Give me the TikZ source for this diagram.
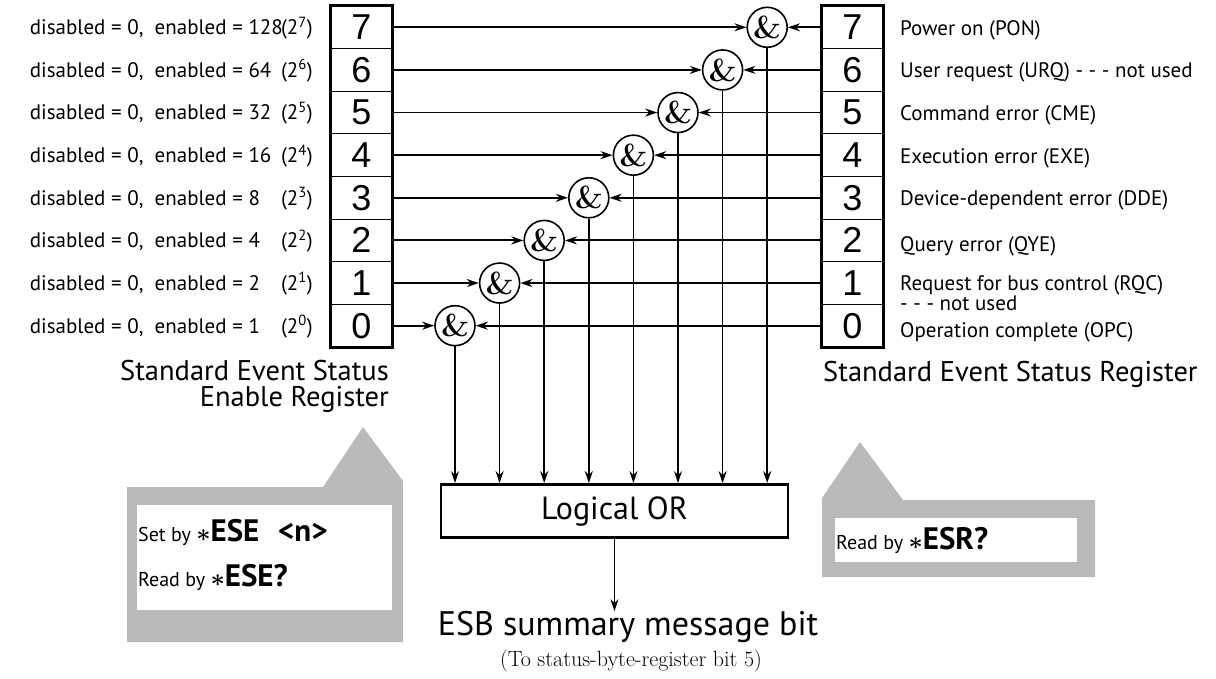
\documentclass[tikz,border=0pt]{standalone}
\usepackage{fontspec}
\setsansfont{PT Sans}
\newfontfamily\digitfont{Liberation Sans}
\newcommand{\cmdword}[1]{{\sffamily\bfseries\fontsize{31}{31}\selectfont{\boldmath$\ast$}#1}}
\usetikzlibrary{arrows.meta,positioning,calc}

\begin{document}
\begin{tikzpicture}[
    x=1pt,
    y=-1pt,
    >={Stealth[length=12pt,width=8pt]},
    bitcell/.style={
        draw,
        line width=1pt,
        minimum width=61pt,
        minimum height=42.625pt,
        inner sep=0pt,
        font=\digitfont\fontsize{36}{36}\selectfont
    },
    andgate/.style={draw,circle,line width=1.6pt,minimum size=40pt,inner sep=0pt,
        font=\rmfamily\bfseries\fontsize{32}{32}\selectfont},
    bitlabel/.style={font=\sffamily\fontsize{21}{23}\selectfont,inner sep=0pt},
    regtitle/.style={font=\sffamily\fontsize{28.5}{26}\selectfont,inner sep=0pt},
    cmd/.style={font=\sffamily\fontsize{20}{20}\selectfont,inner sep=0pt,anchor=base west},
    arrow/.style={->,line width=1.9pt},
    drop/.style={->,line width=1.7pt},
    callout/.style={fill=black!27}
]
\useasboundingbox (0,0) rectangle (1216,679);

% registers, gates and their inputs
\foreach \i in {0,...,7} {
    \pgfmathsetmacro{\ry}{27.3+42.625*(7-\i)}
    \pgfmathsetmacro{\gx}{455+44.6*\i}
    \node[bitcell] (l\i) at (361.5,\ry) {\i};
    \node[bitcell] (r\i) at (852.5,\ry) {\i};
    \node[andgate] (g\i) at (\gx,\ry) {\&};
    \draw[arrow] (l\i.east) -- (g\i.west);
    \draw[arrow] (r\i.west) -- (g\i.east);
}
\draw[line width=3.2pt] (l7.north west) rectangle (l0.south east);
\draw[line width=3.2pt] (r7.north west) rectangle (r0.south east);

% enable values
\foreach \i/\v in {7/128,6/64,5/32,4/16,3/8,2/4,1/2,0/1}
    \node[bitlabel,anchor=east] (ev\i) at (313,{28+42.625*(7-\i)})
        {disabled = 0,\ \ enabled = \makebox[1.55em][l]{\v}(2\textsuperscript{\i})};

% event names
\node[bitlabel,anchor=west] (ename7) at (900,30) {Power on (PON)};
\node[bitlabel,anchor=west] (ename6) at (900,72) {User request (URQ) - - - not used};
\node[bitlabel,anchor=west] (ename5) at (900,115) {Command error (CME)};
\node[bitlabel,anchor=west] (ename4) at (900,158) {Execution error (EXE)};
\node[bitlabel,anchor=west] (ename3) at (900,200) {Device-dependent error (DDE)};
\node[bitlabel,anchor=west] (ename2) at (900,246) {Query error (QYE)};
\node[bitlabel,anchor=west,align=left,font=\sffamily\fontsize{21}{20}\selectfont]
    (ename1) at (900,293) {Request for bus control (RQC)\\- - - not used};
\node[bitlabel,anchor=west] (ename0) at (900,332) {Operation complete (OPC)};

\node[regtitle,anchor=north east,align=right] (esetitle) at (389,360)
    {Standard Event Status\\Enable Register};
\node[regtitle,anchor=west] (esrtitle) at (823,374) {Standard Event Status Register};

% logical OR and summary bit
\node[draw,line width=2.8pt,minimum width=347pt,minimum height=53pt,inner sep=0pt,
    font=\sffamily\fontsize{32}{32}\selectfont] (or) at (614.5,511) {Logical OR};
\foreach \i in {0,...,7}
    \draw[drop] (g\i.south) -- (g\i.south |- or.north);

\node[font=\sffamily\fontsize{34}{34}\selectfont,inner sep=0pt] (esb) at (628,627)
    {ESB summary message bit};
\node[font=\rmfamily\fontsize{22}{22}\selectfont,inner sep=0pt] (tosb) at (631,661)
    {(To status-byte-register bit 5)};
\draw[drop] (or.south) -- (or.south |- esb.north);

% callouts
\fill[callout] (127,487) -- (323,487) -- (363,427) -- (403,481) -- (403,642)
    -- (127,642) -- cycle;
\fill[white] (137,505) rectangle (392,610);
\node[cmd] (setese) at (138,541) {Set by \cmdword{ESE\hspace{0.6em}<n>}};
\node[cmd] (readese) at (138,586) {Read by \cmdword{ESE?}};

\fill[callout] (822,498) -- (860,442) -- (903,500) -- (1095,500) -- (1095,577)
    -- (822,577) -- cycle;
\fill[white] (835,518) rectangle (1077,562);
\node[cmd] (readesr) at (836,549) {Read by \cmdword{ESR?}};

\end{tikzpicture}
\end{document}
